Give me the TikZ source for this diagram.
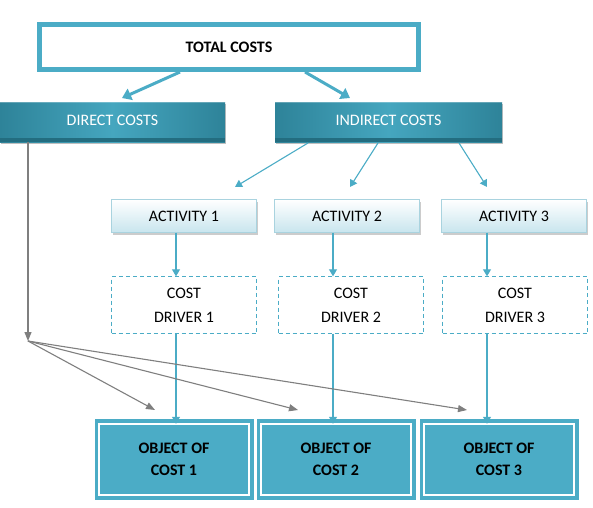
\documentclass[tikz,border=0pt]{standalone}
\usepackage{fontspec}
\setmainfont{Carlito}
\usetikzlibrary{arrows.meta,shadows,calc}
\definecolor{teal1}{HTML}{4BACC6}
\definecolor{tealdk}{HTML}{2E8399}
\definecolor{tealbot}{HTML}{236D80}
\definecolor{tealmid}{HTML}{45A6BF}
\definecolor{actbd}{HTML}{A9D3DF}
\definecolor{actbot}{HTML}{C8E5EE}
\definecolor{grayarr}{HTML}{7F7F7F}
\begin{document}
\begin{tikzpicture}[x=1pt,y=-1pt,
  topbox/.style={draw=teal1,line width=5pt,fill=white,minimum width=379pt,minimum height=45pt,inner sep=0pt,font=\bfseries\fontsize{16}{19}\selectfont},
  costbox/.style={left color=tealdk,right color=tealdk,middle color=tealmid,minimum height=40pt,inner sep=0pt,text=white,font=\fontsize{16}{19}\selectfont,drop shadow={shadow xshift=1pt,shadow yshift=-2pt,fill=black!50,opacity=.5}},
  actbox/.style={draw=actbd,top color=white,bottom color=actbot,minimum width=145pt,minimum height=33pt,inner sep=0pt,font=\fontsize{16}{19}\selectfont,drop shadow={shadow xshift=1.5pt,shadow yshift=-2pt,fill=black!40,opacity=.5}},
  drvbox/.style={draw=teal1,dashed,dash pattern=on 4pt off 3pt,minimum width=145pt,minimum height=57pt,inner sep=0pt,align=center,font=\fontsize{16}{19}\selectfont},
  objbox/.style={fill=teal1,minimum width=159pt,minimum height=81pt,inner sep=0pt,align=center,font=\bfseries\fontsize{16}{19}\selectfont},
  tarr/.style={draw=teal1,line width=1.1pt,-{Triangle[length=7pt,width=8pt]}},
  bigarr/.style={draw=teal1,line width=3pt,-{Triangle[length=9pt,width=12pt]}},
  garr/.style={draw=grayarr,line width=1.1pt,-{Triangle[length=9pt,width=7pt]}}
]
\useasboundingbox (0,0) rectangle (593,507);
% total costs
\node[topbox] (total) at (229,47) {TOTAL COSTS};
\draw[teal1,line width=0.8pt] ($(total.north west)+(4,4)$) rectangle ($(total.south east)+(-4,-4)$);
% direct / indirect
\node[costbox,minimum width=225pt] (direct) at (112.5,122) {\raisebox{3pt}{DIRECT COSTS}};
\node[costbox,minimum width=227pt] (indirect) at (388.5,122) {\raisebox{3pt}{INDIRECT COSTS}};
\foreach \n in {direct,indirect}{
  \fill[tealbot] ($(\n.south west)+(0,-4)$) rectangle (\n.south east);
  \fill[white,opacity=.25] (\n.north west) rectangle ($(\n.north east)+(0,1.5)$);
}
% activities
\node[actbox] (a1) at (184,216) {ACTIVITY 1};
\node[actbox] (a2) at (347,216) {ACTIVITY 2};
\node[actbox] (a3) at (514,216) {ACTIVITY 3};
% drivers
\node[drvbox] (d1) at (184,305) {COST\\[5pt]DRIVER 1};
\node[drvbox] (d2) at (351,305) {COST\\[5pt]DRIVER 2};
\node[drvbox] (d3) at (515,305) {COST\\[5pt]DRIVER 3};
% objects
\node[objbox] (o1) at (174,459.5) {OBJECT OF\\[3pt]COST 1};
\node[objbox] (o2) at (336,459.5) {OBJECT OF\\[3pt]COST 2};
\node[objbox] (o3) at (499,459.5) {OBJECT OF\\[3pt]COST 3};
\foreach \o in {o1,o2,o3}{
  \draw[white,line width=2.2pt] ($(\o.north west)+(5,5)$) rectangle ($(\o.south east)+(-5,-5)$);
}
% arrows from total
\draw[bigarr] (180,72) -- (122,98);
\draw[bigarr] (305,72) -- (350,98);
% indirect to activities
\draw[tarr] (308,143) -- (235,187);
\draw[tarr] (378,143) -- (350,187);
\draw[tarr] (459,143) -- (487,187);
% activity to driver
\draw[tarr] (a1.south -| 176,0) -- (d1.north -| 176,0);
\draw[tarr] (a2.south -| 333,0) -- (d2.north -| 333,0);
\draw[tarr] (a3.south -| 487,0) -- (d3.north -| 487,0);
% driver to object
\draw[tarr] (d1.south -| 176,0) -- ([yshift=-5pt]o1.north -| 176,0);
\draw[tarr] (d2.south -| 333,0) -- ([yshift=-5pt]o2.north -| 333,0);
\draw[tarr] (d3.south -| 487,0) -- ([yshift=-5pt]o3.north -| 487,0);
% direct costs path
\coordinate (split) at (28,341);
\draw[garr] (direct.south -| 28,0) -- (split);
\draw[garr] (split) -- (155,410);
\draw[garr] (split) -- (298,410);
\draw[garr] (split) -- (467,410);
\end{tikzpicture}
\end{document}
